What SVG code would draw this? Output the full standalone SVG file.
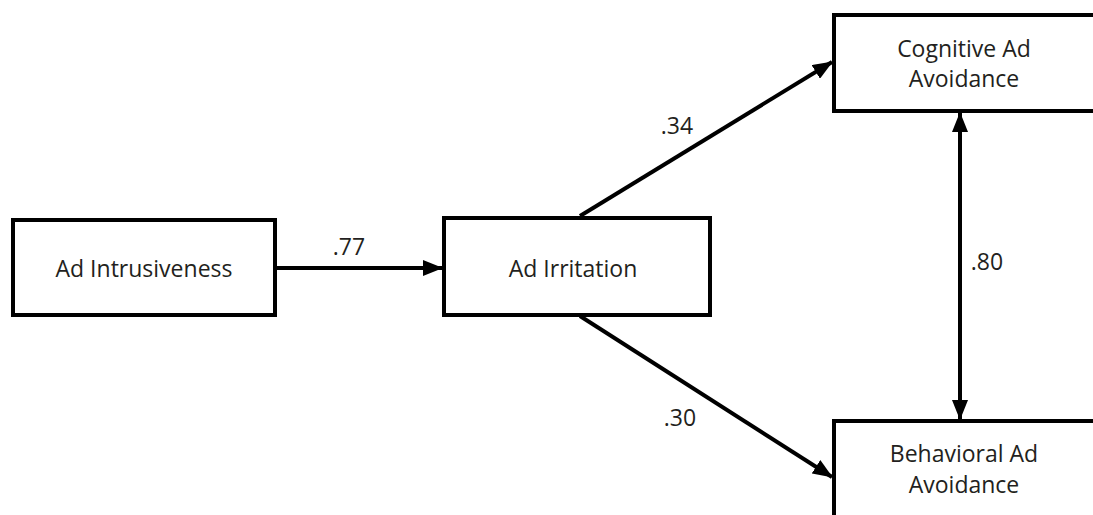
<svg xmlns="http://www.w3.org/2000/svg" width="1093" height="515" viewBox="0 0 1093 515">
<defs>
<style>
.box{fill:#fff;stroke:#000;stroke-width:4}
.lbl{font-family:"Open Sans","Liberation Sans",sans-serif;font-size:23px;fill:#231f20;text-anchor:middle}
.edge{stroke:#000;stroke-width:4;fill:none}
</style>
<marker id="ah" viewBox="0 0 20 16" refX="19" refY="8" markerWidth="20" markerHeight="16" markerUnits="userSpaceOnUse" orient="auto-start-reverse">
<path d="M0,0 L20,8 L0,16 Z" fill="#000"/>
</marker>
</defs>
<rect width="1093" height="515" fill="#fff"/>
<g id="connectors">
<line class="edge" x1="274" y1="268" x2="442" y2="268" marker-end="url(#ah)"/>
<line class="edge" x1="580" y1="216" x2="832" y2="62" marker-end="url(#ah)"/>
<line class="edge" x1="580" y1="316" x2="832" y2="477" marker-end="url(#ah)"/>
<line class="edge" x1="960" y1="113" x2="960" y2="419" marker-start="url(#ah)" marker-end="url(#ah)"/>
<text class="lbl" x="349" y="255">.77</text>
<text class="lbl" x="677" y="134">.34</text>
<text class="lbl" x="680" y="426">.30</text>
<text class="lbl" x="987" y="270">.80</text>
</g>
<g id="n-intrusiveness">
<rect class="box" x="13" y="220" width="262" height="95"/>
<text class="lbl" x="144" y="277">Ad Intrusiveness</text>
</g>
<g id="n-irritation">
<rect class="box" x="444" y="218" width="266" height="97"/>
<text class="lbl" x="573" y="277">Ad Irritation</text>
</g>
<g id="n-cognitive">
<rect class="box" x="834" y="15" width="270" height="96"/>
<text class="lbl" x="964" y="57">Cognitive Ad</text>
<text class="lbl" x="964" y="87">Avoidance</text>
</g>
<g id="n-behavioral">
<rect class="box" x="834" y="421" width="270" height="110"/>
<text class="lbl" x="964" y="462">Behavioral Ad</text>
<text class="lbl" x="964" y="493">Avoidance</text>
</g>
</svg>
